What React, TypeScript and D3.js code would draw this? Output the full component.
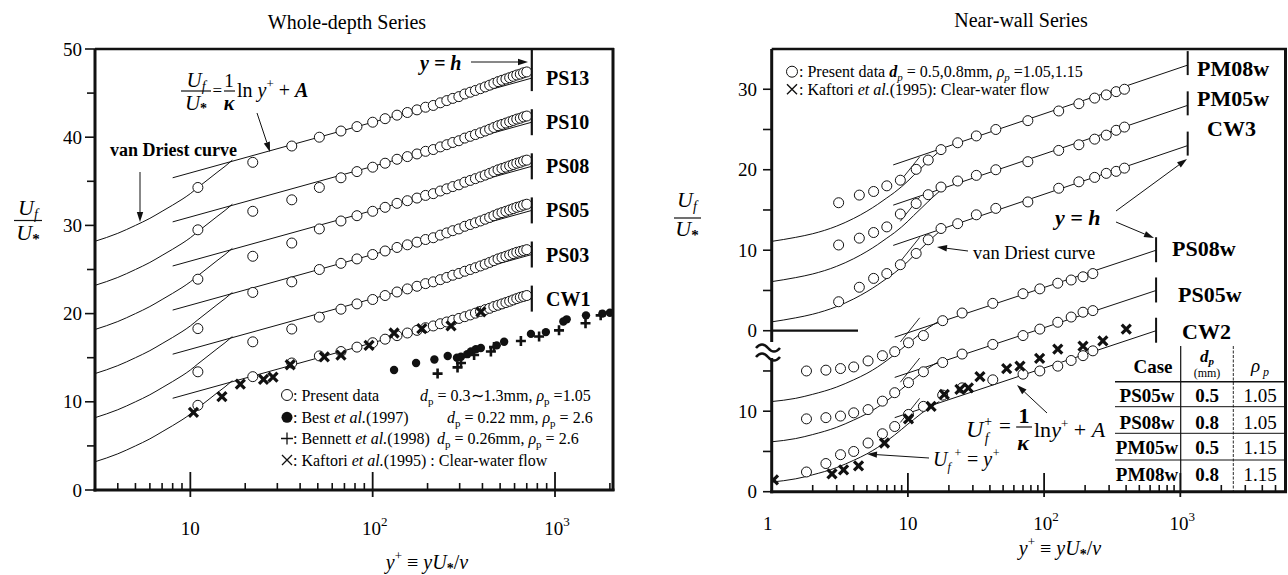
import React from "react";
import * as d3 from "d3";

const SERIF = "'Liberation Serif','Times New Roman',Times,serif";

// ---------------- Left panel : Whole-depth Series ----------------
const leftNames = ["CW1", "PS03", "PS05", "PS08", "PS10", "PS13"];
const leftCurveShift = [0, 5, 10, 15, 20, 25];
const leftYPlus = [11, 22, 36, 51, 67, 82, 100, 117, 136, 155, 175, 195, 215, 235, 255, 275, 297, 320, 343, 366, 390, 414, 438, 462, 487, 512, 538, 564, 590, 617, 645, 672, 700];
const leftCW1 = [9.6, 12.85, 14.4, 15.2, 15.7, 16.2, 16.7, 17.1, 17.5, 17.8, 18.1, 18.4, 18.6, 18.85, 19.05, 19.25, 19.45, 19.65, 19.85, 20.05, 20.25, 20.45, 20.6, 20.8, 20.95, 21.1, 21.25, 21.4, 21.55, 21.7, 21.85, 21.95, 22.05];
const leftPS03 = [13.4, 16.8, 18.25, 19.6, 20.5, 21.1, 21.6, 22.05, 22.45, 22.8, 23.1, 23.4, 23.6, 23.85, 24.1, 24.35, 24.55, 24.8, 25.0, 25.2, 25.4, 25.6, 25.8, 26.0, 26.2, 26.35, 26.5, 26.65, 26.8, 26.95, 27.05, 27.15, 27.25];
const leftPS05 = [18.3, 22.4, 23.6, 25.0, 25.7, 26.2, 26.7, 27.1, 27.5, 27.8, 28.1, 28.4, 28.6, 28.9, 29.15, 29.4, 29.6, 29.9, 30.1, 30.3, 30.5, 30.7, 30.9, 31.1, 31.3, 31.45, 31.6, 31.75, 31.9, 32.05, 32.15, 32.3, 32.4];
const leftPS08 = [23.9, 26.5, 28.0, 29.6, 30.5, 31.1, 31.6, 32.05, 32.5, 32.8, 33.1, 33.4, 33.6, 33.9, 34.15, 34.4, 34.6, 34.9, 35.1, 35.3, 35.5, 35.7, 35.9, 36.1, 36.3, 36.45, 36.6, 36.75, 36.9, 37.05, 37.15, 37.3, 37.4];
const leftPS10 = [29.5, 31.6, 32.9, 34.3, 35.4, 36.1, 36.6, 37.05, 37.5, 37.8, 38.1, 38.4, 38.6, 38.9, 39.15, 39.4, 39.6, 39.9, 40.1, 40.3, 40.5, 40.7, 40.9, 41.1, 41.3, 41.45, 41.6, 41.75, 41.9, 42.05, 42.15, 42.3, 42.4];
const leftPS13 = [34.3, 37.15, 39.0, 40.0, 40.7, 41.2, 41.7, 42.1, 42.5, 42.8, 43.1, 43.4, 43.6, 43.9, 44.15, 44.4, 44.6, 44.9, 45.1, 45.3, 45.5, 45.7, 45.9, 46.1, 46.3, 46.45, 46.6, 46.75, 46.9, 47.05, 47.15, 47.3, 47.4];
const leftSeries = [leftCW1, leftPS03, leftPS05, leftPS08, leftPS10, leftPS13];
const vdLeftYPlus = [3, 4, 5, 6, 7, 8, 9, 10, 11, 12.5, 14, 15.5, 17];
const vdLeftU = [3.2, 4.1, 5.0, 5.8, 6.6, 7.3, 7.95, 8.6, 9.3, 10.2, 11.0, 11.7, 12.4];
const logLawLeftYPlus = [8, 746];
const logLawLeftStart = [10.4, 15.4, 20.4, 25.4, 30.4, 35.4];
const logLawLeftEnd = [21.7, 26.7, 31.7, 36.7, 41.7, 46.7];
const kaftoriLeftYPlus = [10.4, 14.9, 18.8, 25.2, 28.4, 35.3, 54.3, 67, 95.5, 131, 186, 269, 392];
const kaftoriLeftU = [8.8, 10.6, 12.0, 12.55, 12.8, 14.2, 15.1, 15.3, 16.4, 17.8, 18.3, 18.6, 20.2];
const bestYPlus = [131, 173, 218, 258, 290, 305, 330, 346, 368, 392, 479, 526, 738, 891, 1111, 1159, 1479, 1820, 2000];
const bestU = [13.6, 14.4, 14.8, 15.2, 15.0, 15.1, 15.4, 15.7, 15.95, 16.1, 16.4, 16.8, 17.7, 17.9, 19.1, 19.35, 19.8, 20.0, 20.1];
const bennettYPlus = [227, 292, 305, 360, 445, 463, 650, 818, 1052, 1470, 1780];
const bennettU = [13.2, 13.9, 14.4, 15.3, 15.7, 16.2, 16.9, 17.4, 18.1, 18.9, 19.8];
const leftYTickLabels = ["0", "10", "20", "30", "40", "50"];

// ---------------- Right panel : Near-wall Series ----------------
const upperShift = 20; // upper block of the broken axis
const upperNames = ["CW3", "PM05w", "PM08w"];
const lowerNames = ["CW2", "PS05w", "PS08w"];
const rightCurveShift = [0, 5, 10];
const upperYPlus = [3.1, 4.4, 5.6, 7.0, 8.8, 11.5, 14.1, 17.5, 23.2, 31.8, 44.2, 76, 128, 180, 235, 286, 338, 389];
const upperCW3 = [3.6, 5.4, 6.5, 7.1, 8.2, 9.6, 11.3, 12.7, 13.3, 14.4, 15.2, 16.0, 17.7, 18.5, 19.05, 19.55, 19.8, 20.2];
const upperPM05w = [10.65, 11.5, 12.2, 12.9, 14.5, 15.8, 16.9, 17.85, 18.6, 19.3, 20.0, 21.0, 22.4, 23.1, 23.8, 24.3, 24.9, 25.3];
const upperPM08w = [15.9, 16.85, 17.3, 18.0, 18.7, 20.05, 21.2, 22.5, 23.35, 24.2, 25.0, 26.1, 27.3, 28.2, 28.9, 29.3, 29.7, 30.0];
const upperSeries = [upperCW3, upperPM05w, upperPM08w];
const lowerYPlus = [1.8, 2.5, 3.2, 4.0, 5.1, 6.5, 8.0, 10.1, 13.0, 18.0, 25.0, 42, 70, 93, 126, 158, 193, 228];
const lowerCW2 = [2.45, 3.5, 4.6, 5.0, 6.05, 7.2, 8.1, 9.6, 10.6, 12.0, 12.9, 13.9, 14.6, 15.0, 15.6, 16.3, 16.9, 17.5];
const lowerPS05w = [9.05, 9.2, 9.4, 9.8, 10.2, 11.25, 12.3, 13.55, 14.9, 16.05, 17.1, 18.3, 19.4, 20.2, 21.05, 21.7, 22.3, 22.5];
const lowerPS08w = [15.0, 15.1, 15.3, 15.5, 16.25, 16.9, 17.4, 18.5, 19.4, 21.25, 22.2, 23.4, 24.6, 25.2, 25.9, 26.3, 26.7, 27.1];
const lowerSeries = [lowerCW2, lowerPS05w, lowerPS08w];
const vdUpperYPlus = [1, 1.5, 2, 3, 4, 5, 6, 7, 8, 9, 10, 11, 12.5, 14, 15.5, 17, 18.5];
const vdUpperU = [1.1, 1.6, 2.05, 3.0, 3.95, 4.85, 5.7, 6.5, 7.2, 7.9, 8.6, 9.3, 10.2, 11.0, 11.7, 12.3, 12.8];
const vdLowerYPlus = [1, 1.5, 2, 3, 4, 5, 6, 7, 8, 9, 10, 11, 12.5, 14, 15.5, 17];
const vdLowerU = [1.2, 1.6, 2.1, 3.0, 3.9, 4.7, 5.5, 6.3, 7.05, 7.75, 8.4, 8.95, 9.7, 10.3, 10.8, 11.2];
const logLawUpperYPlus = [7.8, 1133];
const logLawUpperStart = [10.6, 15.6, 20.6];
const logLawUpperEnd = [23.0, 28.0, 33.0];
const logLawLowerYPlus = [8, 664];
const logLawLowerStart = [9.2, 14.2, 19.2];
const logLawLowerEnd = [20.0, 25.0, 30.0];
const linearStubYPlus = [8.8, 12.2];
const linearStubU = [8.6, 11.6];
const kaftoriRightYPlus = [1.03, 2.77, 3.37, 4.34, 6.73, 10.1, 14.8, 18.5, 24.1, 27.8, 33.8, 53.1, 66.5, 92.7, 126, 193, 270, 401];
const kaftoriRightU = [1.46, 2.2, 2.7, 3.2, 6.05, 9.05, 10.6, 12.1, 12.7, 12.9, 14.3, 15.3, 15.6, 16.55, 17.7, 18.1, 18.75, 20.2];
const rightLowerTicks = [0, 5, 10, 15];
const rightUpperTicks = [0, 5, 10, 15, 20, 25, 30];
const tableCase = ["PS05w", "PS08w", "PM05w", "PM08w"];
const tableDp = ["0.5", "0.8", "0.5", "0.8"];
const tableRho = ["1.05", "1.05", "1.15", "1.15"];

// ---------------- helpers ----------------
const INK = "#111";

function Arrow({ x1, y1, x2, y2, len = 10, half = 3.2 }: any) {
  const a = Math.atan2(y2 - y1, x2 - x1);
  const bx = x2 - len * Math.cos(a);
  const by = y2 - len * Math.sin(a);
  const px = -Math.sin(a) * half;
  const py = Math.cos(a) * half;
  return (
    <g>
      <line x1={x1} y1={y1} x2={bx} y2={by} stroke={INK} strokeWidth={1} />
      <polygon points={`${x2},${y2} ${bx + px},${by + py} ${bx - px},${by - py}`} fill={INK} />
    </g>
  );
}

function BoldX({ x, y, s = 4.5, w = 3.2 }: any) {
  return <path d={`M${x - s},${y - s}L${x + s},${y + s}M${x - s},${y + s}L${x + s},${y - s}`} stroke={INK} strokeWidth={w} fill="none" />;
}
function Plus({ x, y, s = 5, w = 2.6 }: any) {
  return <path d={`M${x - s},${y}H${x + s}M${x},${y - s}V${y + s}`} stroke={INK} strokeWidth={w} fill="none" />;
}
function Ring({ x, y, r = 5 }: any) {
  return <circle cx={x} cy={y} r={r} fill="white" stroke={INK} strokeWidth={1} />;
}

function supLabel(v: number) {
  const e = Math.round(Math.log10(v));
  if (e === 0) return ["1", null];
  if (e === 1) return ["10", null];
  return ["10", String(e)];
}

export default function App() {
  // scales
  const xL = d3.scaleLog().domain([3, 2080]).range([95, 613]);
  const yL = d3.scaleLinear().domain([0, 50]).range([490, 49]);
  const xR = d3.scaleLog().domain([1, 5970]).range([771.7, 1286]);
  const yR = d3.scaleLinear().domain([0, 55]).range([491.7, 49]);

  const lineL = d3.line<[number, number]>().x((d) => xL(d[0])).y((d) => yL(d[1])).curve(d3.curveMonotoneX);
  const lineR = d3.line<[number, number]>().x((d) => xR(d[0])).y((d) => yR(d[1])).curve(d3.curveMonotoneX);

  const isMajor = (v: number) => Math.abs(Math.log10(v) - Math.round(Math.log10(v))) < 1e-9;

  const xTicksL = xL.ticks();
  const xTicksR = xR.ticks().filter((v) => v > 1);
  const yTicksL = yL.ticks(10);

  const textStyle: any = { whiteSpace: "pre" };

  return (
    <svg width={1288} height={575} style={{ position: "absolute", left: 0, top: 0, background: "white" }} fontFamily={SERIF}>
      <defs>
        <clipPath id="clipL"><rect x={95} y={49} width={518} height={441} /></clipPath>
        <clipPath id="clipR"><rect x={771.7} y={49} width={514.3} height={442.7} /></clipPath>
      </defs>
      <rect x={0} y={0} width={1288} height={575} fill="white" />

      {/* ============ LEFT PANEL ============ */}
      <text x={347} y={29} textAnchor="middle" fontSize={20}>Whole-depth Series</text>

      <g clipPath="url(#clipL)">
        {leftCurveShift.map((s, i) => (
          <path key={"vd" + i} d={lineL(vdLeftYPlus.map((y, j) => [y, vdLeftU[j] + s]) as any) || ""} fill="none" stroke={INK} strokeWidth={1} />
        ))}
        {logLawLeftStart.map((u0, i) => (
          <line key={"ll" + i} x1={xL(logLawLeftYPlus[0])} y1={yL(u0)} x2={xL(logLawLeftYPlus[1])} y2={yL(logLawLeftEnd[i])} stroke={INK} strokeWidth={1} />
        ))}
        {leftSeries.map((arr, i) =>
          arr.map((u, j) => <Ring key={`c${i}-${j}`} x={xL(leftYPlus[j])} y={yL(u)} />)
        )}
        {bestYPlus.map((y, j) => <circle key={"b" + j} cx={xL(y)} cy={yL(bestU[j])} r={4.2} fill={INK} />)}
        {bennettYPlus.map((y, j) => <Plus key={"p" + j} x={xL(y)} y={yL(bennettU[j])} />)}
        {kaftoriLeftYPlus.map((y, j) => <BoldX key={"k" + j} x={xL(y)} y={yL(kaftoriLeftU[j])} />)}
      </g>

      {/* y = h markers & labels */}
      {logLawLeftEnd.map((u, i) => {
        const x = xL(logLawLeftYPlus[1]);
        const yc = yL(u);
        const top = i === logLawLeftEnd.length - 1 ? 49 : yc - 13;
        return (
          <g key={"m" + i}>
            <line x1={x} x2={x} y1={top} y2={yc + 13} stroke={INK} strokeWidth={2.2} />
            <text x={546} y={yc + 7} fontSize={20} fontWeight="bold">{leftNames[i]}</text>
          </g>
        );
      })}

      {/* frame */}
      <line x1={95} x2={95} y1={49} y2={491.5} stroke={INK} strokeWidth={3} />
      <line x1={93.5} x2={614.5} y1={490} y2={490} stroke={INK} strokeWidth={3} />
      <line x1={95} x2={614} y1={49} y2={49} stroke={INK} strokeWidth={2.5} />
      <line x1={613} x2={613} y1={48} y2={491} stroke={INK} strokeWidth={3} />

      {/* x ticks */}
      {xTicksL.map((v, i) =>
        isMajor(v) ? (
          <line key={"xt" + i} x1={xL(v)} x2={xL(v)} y1={472} y2={497} stroke={INK} strokeWidth={1.8} />
        ) : (
          <line key={"xt" + i} x1={xL(v)} x2={xL(v)} y1={483} y2={490} stroke={INK} strokeWidth={1.6} />
        )
      )}
      {xTicksL.filter(isMajor).map((v, i) => {
        const [b, e] = supLabel(v);
        return (
          <text key={"xl" + i} x={xL(v) + (e ? 2 : 0)} y={535} textAnchor="middle" fontSize={19}>
            {b}
            {e && <tspan fontSize={13} dy={-9}>{e}</tspan>}
          </text>
        );
      })}
      {/* y ticks */}
      {yTicksL.map((v, i) => (
        <line key={"yt" + i} x1={v % 10 === 0 ? 85 : 87} x2={95} y1={yL(v)} y2={yL(v)} stroke={INK} strokeWidth={1.6} />
      ))}
      {leftYTickLabels.map((s, i) => (
        <text key={"yl" + i} x={82} y={yL(+s) + 6.5} textAnchor="end" fontSize={19}>{s}</text>
      ))}

      {/* axis titles */}
      <text x={28} y={215} textAnchor="middle" fontStyle="italic" fontSize={22}>U<tspan fontSize={14} dy={4}>f</tspan></text>
      <line x1={14} x2={42} y1={220.5} y2={220.5} stroke={INK} strokeWidth={1.2} />
      <text x={28} y={240} textAnchor="middle" fontStyle="italic" fontSize={22}>U<tspan fontSize={15} dy={4} fontStyle="normal" fontWeight="bold">*</tspan></text>

      <text x={427} y={569} textAnchor="middle" fontSize={20} style={textStyle}>
        <tspan fontStyle="italic">y</tspan><tspan fontSize={13} dy={-9}>+</tspan><tspan dy={9}> ≡ </tspan><tspan fontStyle="italic">yU</tspan><tspan fontSize={14} dy={4} fontWeight="bold">*</tspan><tspan dy={-4}>/</tspan><tspan fontStyle="italic">ν</tspan>
      </text>

      {/* annotations */}
      <text x={110} y={156} fontSize={18} fontWeight="bold">van Driest curve</text>
      <Arrow x1={140} y1={172} x2={140} y2={222} />
      <text x={196} y={87} textAnchor="middle" fontStyle="italic" fontSize={21}>U<tspan fontSize={14} dy={4}>f</tspan></text>
      <line x1={181} x2={211} y1={91} y2={91} stroke={INK} strokeWidth={1.2} />
      <text x={196} y={110} textAnchor="middle" fontStyle="italic" fontSize={21}>U<tspan fontSize={14} dy={3} fontStyle="normal" fontWeight="bold">*</tspan></text>
      <text x={212.5} y={96} fontSize={17}>=</text>
      <text x={229} y={87} textAnchor="middle" fontSize={19}>1</text>
      <line x1={224} x2={235} y1={91} y2={91} stroke={INK} strokeWidth={1.2} />
      <text x={229} y={110} textAnchor="middle" fontSize={20} fontStyle="italic" fontWeight="bold">κ</text>
      <text x={237} y={97} fontSize={20} style={textStyle}>
        ln <tspan fontStyle="italic">y</tspan><tspan fontSize={13} dy={-9}>+</tspan><tspan dy={9}> + </tspan><tspan fontStyle="italic" fontWeight="bold">A</tspan>
      </text>
      <Arrow x1={257} y1={113} x2={270} y2={152} />
      <text x={420} y={70} fontSize={20} fontStyle="italic" fontWeight="bold" style={textStyle}>y = h</text>
      <Arrow x1={471} y1={62} x2={528} y2={62} />

      {/* legend */}
      <g fontSize={16} style={textStyle}>
        <Ring x={287} y={395} r={5.5} />
        <text x={293} y={400.5}>: Present data</text>
        <text x={420} y={400.5}><tspan fontStyle="italic">d</tspan><tspan fontSize={11} dy={4}>p</tspan><tspan dy={-4}> = 0.3∼1.3mm,  </tspan><tspan fontStyle="italic">ρ</tspan><tspan fontSize={11} dy={4}>p</tspan><tspan dy={-4}> =1.05</tspan></text>
        <circle cx={287} cy={417.3} r={5.5} fill={INK} />
        <text x={293} y={423}>: Best <tspan fontStyle="italic">et al.</tspan>(1997)</text>
        <text x={447} y={423}><tspan fontStyle="italic">d</tspan><tspan fontSize={11} dy={4}>p</tspan><tspan dy={-4}> = 0.22 mm,  </tspan><tspan fontStyle="italic">ρ</tspan><tspan fontSize={11} dy={4}>p</tspan><tspan dy={-4}> = 2.6</tspan></text>
        <Plus x={287} y={438.5} s={6} w={1.3} />
        <text x={293} y={444}>: Bennett <tspan fontStyle="italic">et al.</tspan>(1998)</text>
        <text x={437} y={444}><tspan fontStyle="italic">d</tspan><tspan fontSize={11} dy={4}>p</tspan><tspan dy={-4}> = 0.26mm,  </tspan><tspan fontStyle="italic">ρ</tspan><tspan fontSize={11} dy={4}>p</tspan><tspan dy={-4}> = 2.6</tspan></text>
        <BoldX x={287} y={460} s={5} w={1.3} />
        <text x={293} y={465.5}>: Kaftori <tspan fontStyle="italic">et al.</tspan>(1995)  : Clear-water flow</text>
      </g>

      {/* ============ RIGHT PANEL ============ */}
      <text x={1021} y={27} textAnchor="middle" fontSize={20}>Near-wall Series</text>

      <g clipPath="url(#clipR)">
        {rightCurveShift.map((s, i) => (
          <g key={"rc" + i}>
            <path d={lineR(vdUpperYPlus.map((y, j) => [y, vdUpperU[j] + s + upperShift]) as any) || ""} fill="none" stroke={INK} strokeWidth={1} />
            <path d={lineR(vdLowerYPlus.map((y, j) => [y, vdLowerU[j] + s]) as any) || ""} fill="none" stroke={INK} strokeWidth={1} />
            <line x1={xR(logLawUpperYPlus[0])} y1={yR(logLawUpperStart[i] + upperShift)} x2={xR(logLawUpperYPlus[1])} y2={yR(logLawUpperEnd[i] + upperShift)} stroke={INK} strokeWidth={1} />
            <line x1={xR(logLawLowerYPlus[0])} y1={yR(logLawLowerStart[i])} x2={xR(logLawLowerYPlus[1])} y2={yR(logLawLowerEnd[i])} stroke={INK} strokeWidth={1} />
            <line x1={xR(linearStubYPlus[0])} y1={yR(linearStubU[0] + s + upperShift)} x2={xR(linearStubYPlus[1])} y2={yR(linearStubU[1] + s + upperShift)} stroke={INK} strokeWidth={0.9} />
            <line x1={xR(linearStubYPlus[0])} y1={yR(linearStubU[0] + s)} x2={xR(linearStubYPlus[1])} y2={yR(linearStubU[1] + s)} stroke={INK} strokeWidth={0.9} />
          </g>
        ))}
        {upperSeries.map((arr, i) => arr.map((u, j) => <Ring key={`u${i}-${j}`} x={xR(upperYPlus[j])} y={yR(u + upperShift)} />))}
        {lowerSeries.map((arr, i) => arr.map((u, j) => <Ring key={`l${i}-${j}`} x={xR(lowerYPlus[j])} y={yR(u)} />))}
        {kaftoriRightYPlus.map((y, j) => <BoldX key={"kr" + j} x={xR(y)} y={yR(kaftoriRightU[j])} />)}
      </g>

      {/* y = h markers */}
      {logLawUpperEnd.map((u, i) => {
        const x = xR(logLawUpperYPlus[1]);
        const yc = yR(u + upperShift);
        return <line key={"um" + i} x1={x} x2={x} y1={Math.max(49, yc - 14)} y2={yc + 10} stroke={INK} strokeWidth={2} />;
      })}
      {logLawLowerEnd.map((u, i) => {
        const x = xR(logLawLowerYPlus[1]);
        const yc = yR(u);
        return <line key={"lm" + i} x1={x} x2={x} y1={yc - 13} y2={yc + 12} stroke={INK} strokeWidth={2} />;
      })}
      <g fontSize={22} fontWeight="bold">
        <text x={1197} y={76}>{upperNames[2]}</text>
        <text x={1197} y={106}>{upperNames[1]}</text>
        <text x={1207} y={136}>{upperNames[0]}</text>
        <text x={1172} y={256}>{lowerNames[2]}</text>
        <text x={1178} y={302}>{lowerNames[1]}</text>
        <text x={1182} y={339}>{lowerNames[0]}</text>
      </g>

      {/* table */}
      <g>
        <line x1={1115} x2={1286} y1={381.7} y2={381.7} stroke={INK} strokeWidth={1.4} />
        {[406.7, 433.3, 460].map((y, i) => (
          <line key={"tr" + i} x1={1115} x2={1286} y1={y} y2={y} stroke={INK} strokeWidth={1} />
        ))}
        <line x1={1180.7} x2={1180.7} y1={346} y2={491.7} stroke={INK} strokeWidth={1.2} />
        <line x1={1233.3} x2={1233.3} y1={346} y2={491.7} stroke={INK} strokeWidth={0.9} strokeDasharray="3,1.5" />
        <text x={1153} y={373} textAnchor="middle" fontSize={19} fontWeight="bold">Case</text>
        <text x={1207} y={362} textAnchor="middle" fontSize={17} fontStyle="italic" fontWeight="bold">d<tspan fontSize={11} dy={3}>p</tspan></text>
        <text x={1207} y={377} textAnchor="middle" fontSize={12}>(mm)</text>
        <text x={1260} y={372} textAnchor="middle" fontSize={19} fontStyle="italic">ρ<tspan fontSize={12} dy={4}> p</tspan></text>
        {tableCase.map((c, i) => {
          const by = [402, 428.5, 454, 480.5][i];
          return (
            <g key={"row" + i}>
              <text x={1147} y={by} textAnchor="middle" fontSize={19} fontWeight="bold">{c}</text>
              <text x={1207} y={by} textAnchor="middle" fontSize={19} fontWeight="bold">{tableDp[i]}</text>
              <text x={1260} y={by} textAnchor="middle" fontSize={19}>{tableRho[i]}</text>
            </g>
          );
        })}
      </g>

      {/* frame */}
      <line x1={771.7} x2={771.7} y1={49} y2={493.2} stroke={INK} strokeWidth={3} />
      <line x1={770.2} x2={1287} y1={491.7} y2={491.7} stroke={INK} strokeWidth={3} />
      <line x1={771.7} x2={1287} y1={49} y2={49} stroke={INK} strokeWidth={2.5} />
      <line x1={1285.5} x2={1285.5} y1={48} y2={493} stroke={INK} strokeWidth={3} />
      <line x1={771.7} x2={858} y1={yR(upperShift)} y2={yR(upperShift)} stroke={INK} strokeWidth={2.2} />
      {/* axis break */}
      <rect x={764} y={342} width={14} height={16} fill="white" />
      <path d="M756,348 q6,-7 12,0 t12,0" fill="none" stroke={INK} strokeWidth={2.6} />
      <path d="M756,357 q6,-7 12,0 t12,0" fill="none" stroke={INK} strokeWidth={2.6} />

      {/* x ticks */}
      {xTicksR.map((v, i) =>
        isMajor(v) ? (
          <line key={"rxt" + i} x1={xR(v)} x2={xR(v)} y1={473} y2={497} stroke={INK} strokeWidth={1.8} />
        ) : (
          <line key={"rxt" + i} x1={xR(v)} x2={xR(v)} y1={485} y2={491.7} stroke={INK} strokeWidth={1.6} />
        )
      )}
      {xR.ticks().filter(isMajor).map((v, i) => {
        const [b, e] = supLabel(v);
        return (
          <text key={"rxl" + i} x={xR(v) + (e ? 2 : 0) - (v === 1 ? 4 : 0)} y={530} textAnchor="middle" fontSize={19}>
            {b}
            {e && <tspan fontSize={13} dy={-9}>{e}</tspan>}
          </text>
        );
      })}
      {/* y ticks */}
      {rightLowerTicks.map((v, i) => (
        <line key={"ryl" + i} x1={763} x2={771.7} y1={yR(v)} y2={yR(v)} stroke={INK} strokeWidth={1.6} />
      ))}
      {rightUpperTicks.map((v, i) => (
        <line key={"ryu" + i} x1={763} x2={771.7} y1={yR(v + upperShift)} y2={yR(v + upperShift)} stroke={INK} strokeWidth={1.6} />
      ))}
      {rightLowerTicks.filter((v) => v % 10 === 0).map((v, i) => (
        <text key={"rll" + i} x={757} y={yR(v) + 6.5} textAnchor="end" fontSize={19}>{v}</text>
      ))}
      {rightUpperTicks.filter((v) => v % 10 === 0).map((v, i) => (
        <text key={"rul" + i} x={757} y={yR(v + upperShift) + 6.5} textAnchor="end" fontSize={19}>{v}</text>
      ))}

      {/* axis titles */}
      <text x={687} y={207} textAnchor="middle" fontStyle="italic" fontSize={22}>U<tspan fontSize={14} dy={4}>f</tspan></text>
      <line x1={674} x2={701} y1={218} y2={218} stroke={INK} strokeWidth={1.2} />
      <text x={687} y={236} textAnchor="middle" fontStyle="italic" fontSize={22}>U<tspan fontSize={15} dy={4} fontStyle="normal" fontWeight="bold">*</tspan></text>
      <text x={1060} y={555} textAnchor="middle" fontSize={20} style={textStyle}>
        <tspan fontStyle="italic">y</tspan><tspan fontSize={13} dy={-9}>+</tspan><tspan dy={9}> ≡ </tspan><tspan fontStyle="italic">yU</tspan><tspan fontSize={14} dy={4} fontWeight="bold">*</tspan><tspan dy={-4}>/</tspan><tspan fontStyle="italic">ν</tspan>
      </text>

      {/* legend */}
      <g fontSize={16} style={textStyle}>
        <Ring x={792} y={71.7} r={5.5} />
        <text x={799} y={77}>: Present data <tspan fontStyle="italic" fontWeight="bold">d</tspan><tspan fontSize={11} dy={4} fontStyle="italic">p</tspan><tspan dy={-4}> = 0.5,0.8mm,  </tspan><tspan fontStyle="italic">ρ</tspan><tspan fontSize={11} dy={4} fontStyle="italic">p</tspan><tspan dy={-4}> =1.05,1.15</tspan></text>
        <BoldX x={792} y={89.3} s={5} w={1.4} />
        <text x={799} y={95}>: Kaftori  <tspan fontStyle="italic">et al.</tspan>(1995): Clear-water flow</text>
      </g>

      {/* annotations */}
      <text x={1055} y={225} fontSize={22} fontStyle="italic" fontWeight="bold" style={textStyle}>y = h</text>
      <Arrow x1={1116} y1={211} x2={1187} y2={159} />
      <Arrow x1={1116} y1={222} x2={1154} y2={238} />
      <text x={973} y={259} fontSize={18.5}>van Driest curve</text>
      <Arrow x1={968} y1={251} x2={937} y2={247} />
      <text x={966} y={437} fontSize={24} fontStyle="italic" style={textStyle}>U<tspan fontSize={14} dy={-11}>+</tspan><tspan fontSize={14} dx={-8} dy={17}>f</tspan></text>
      <text x={999} y={433} fontSize={21}>=</text>
      <text x={1024} y={423} textAnchor="middle" fontSize={22} fontWeight="bold">1</text>
      <line x1={1016} x2={1032} y1={427} y2={427} stroke={INK} strokeWidth={1.2} />
      <text x={1023} y={450} textAnchor="middle" fontSize={22} fontStyle="italic" fontWeight="bold">κ</text>
      <text x={1034} y={437} fontSize={22} style={textStyle}>ln<tspan fontStyle="italic">y</tspan><tspan fontSize={13} dy={-9}>+</tspan><tspan dy={9}> + </tspan><tspan fontStyle="italic">A</tspan></text>
      <Arrow x1={1047} y1={413} x2={1017} y2={385} />
      <text x={933} y={466} fontSize={20} fontStyle="italic" style={textStyle}>U<tspan fontSize={12} dy={5}>f</tspan><tspan fontSize={12} dy={-14}> +</tspan><tspan dy={9} fontStyle="normal"> = </tspan>y<tspan fontSize={12} dy={-9}>+</tspan></text>
      <Arrow x1={929} y1={458} x2={867} y2={454} />
    </svg>
  );
}
